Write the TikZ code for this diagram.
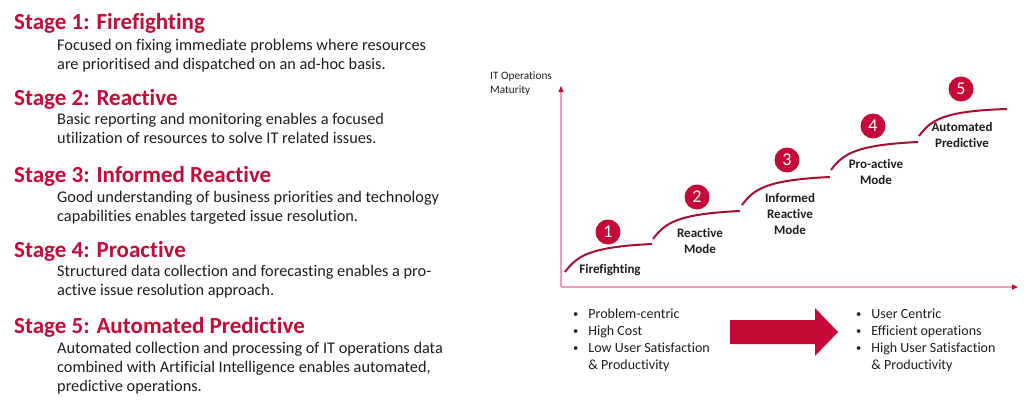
\documentclass[tikz,border=0pt]{standalone}
\usepackage{fontspec}
\setmainfont{Carlito}[Ligatures=NoCommon]
\usetikzlibrary{arrows.meta,calc}
\definecolor{crimson}{RGB}{197,10,55}
\definecolor{darkcurve}{RGB}{165,15,48}
\definecolor{axispink}{RGB}{240,160,180}
\definecolor{txt}{RGB}{30,30,30}
\newcommand{\smallbul}{\raisebox{0.12ex}{\scalebox{0.75}{\textbullet}}}
\tikzset{
  heading/.style={anchor=base west, inner sep=0pt, text=crimson, font=\fontsize{23}{27}\selectfont\bfseries},
  body/.style={anchor=base west, inner sep=0pt, text=txt, align=left, font=\fontsize{16.3}{19}\selectfont},
  axisline/.style={draw=axispink, line width=1.2pt, -{Triangle[length=6pt,width=5pt,color=crimson,fill=crimson]}},
  stepcurve/.style={draw=darkcurve, line width=2pt},
  numcircle/.style={circle, fill=crimson, minimum size=25pt, inner sep=0pt, text=white, font=\fontsize{18}{18}\selectfont},
  steplabel/.style={align=center, inner sep=0pt, text=txt, font=\fontsize{13}{16}\selectfont\bfseries},
  axislabel/.style={anchor=north west, align=left, inner sep=0pt, text=txt, font=\fontsize{11.3}{14}\selectfont},
  bulletlist/.style={anchor=north west, inner sep=0pt, text=txt, font=\fontsize{14}{17}\selectfont}
}
\begin{document}
\begin{tikzpicture}[x=1pt,y=-1pt]
\useasboundingbox[fill=white] (0,0) rectangle (1024,407);
% left text (base anchor = baseline of last line)
\node[heading] (h1) at (14,29) {Stage 1: Firefighting};
\node[body] (b1) at (57,69) {Focused on fixing immediate problems where resources\\are prioritised and dispatched on an ad-hoc basis.};
\node[heading] (h2) at (14,105) {Stage 2: Reactive};
\node[body] (b2) at (57,143) {Basic reporting and monitoring enables a focused\\utilization of resources to solve IT related issues.};
\node[heading] (h3) at (14,182) {Stage 3: Informed Reactive};
\node[body] (b3) at (57,221) {Good understanding of business priorities and technology\\capabilities enables targeted issue resolution.};
\node[heading] (h4) at (14,257) {Stage 4: Proactive};
\node[body] (b4) at (57,295) {Structured data collection and forecasting enables a pro-\\active issue resolution approach.};
\node[heading] (h5) at (14,333) {Stage 5: Automated Predictive};
\node[body] (b5) at (57,391) {Automated collection and processing of IT operations data\\combined with Artificial Intelligence enables automated,\\predictive operations.};
% axes
\coordinate (o) at (561,287);
\coordinate (ytop) at (561,86);
\coordinate (xend) at (1018,287);
\draw[axisline] (o) -- (ytop);
\draw[axisline] (o) -- (xend);
\node[axislabel] (yl) at (490,72) {IT Operations\\Maturity};
% step curves
\coordinate (s1a) at (565,272); \coordinate (s1b) at (652,244);
\coordinate (s2a) at (653,239); \coordinate (s2b) at (740,211);
\coordinate (s3a) at (742,205); \coordinate (s3b) at (830,177);
\coordinate (s4a) at (831,170); \coordinate (s4b) at (918,142);
\coordinate (s5a) at (919,136); \coordinate (s5b) at (1007,109);
\foreach \a/\b in {s1a/s1b,s2a/s2b,s3a/s3b,s4a/s4b,s5a/s5b}{
  \draw[stepcurve] (\a) .. controls ($(\a)+(12,-16)$) and ($(\a)+(24,-25)$) .. (\b);
}
% circles
\node[numcircle] (c1) at (608,232) {1};
\node[numcircle] (c2) at (697,197) {2};
\node[numcircle] (c3) at (787,160) {3};
\node[numcircle] (c4) at (873,126) {4};
\node[numcircle] (c5) at (961,89) {5};
% labels
\node[steplabel] (l1) at (610,270) {Firefighting};
\node[steplabel] (l2) at (700,241) {Reactive\\Mode};
\node[steplabel] (l3) at (790,214) {Informed\\Reactive\\Mode};
\node[steplabel] (l4) at (876,172) {Pro-active\\Mode};
\node[steplabel] (l5) at (962,135) {Automated\\Predictive};
% bullet lists
\node[bulletlist] (left) at (573,306) {\begin{tabular}{@{}l@{\hspace{10pt}}l@{}}\smallbul & Problem-centric\\ \smallbul & High Cost\\ \smallbul & Low User Satisfaction\\ & \& Productivity\end{tabular}};
\node[bulletlist] (right) at (856,306) {\begin{tabular}{@{}l@{\hspace{10pt}}l@{}}\smallbul & User Centric\\ \smallbul & Efficient operations\\ \smallbul & High User Satisfaction\\ & \& Productivity\end{tabular}};
% big arrow
\fill[crimson] (730,320) -- (815,320) -- (815,308) -- (838,332) -- (815,356) -- (815,344) -- (730,344) -- cycle;
\end{tikzpicture}
\end{document}
